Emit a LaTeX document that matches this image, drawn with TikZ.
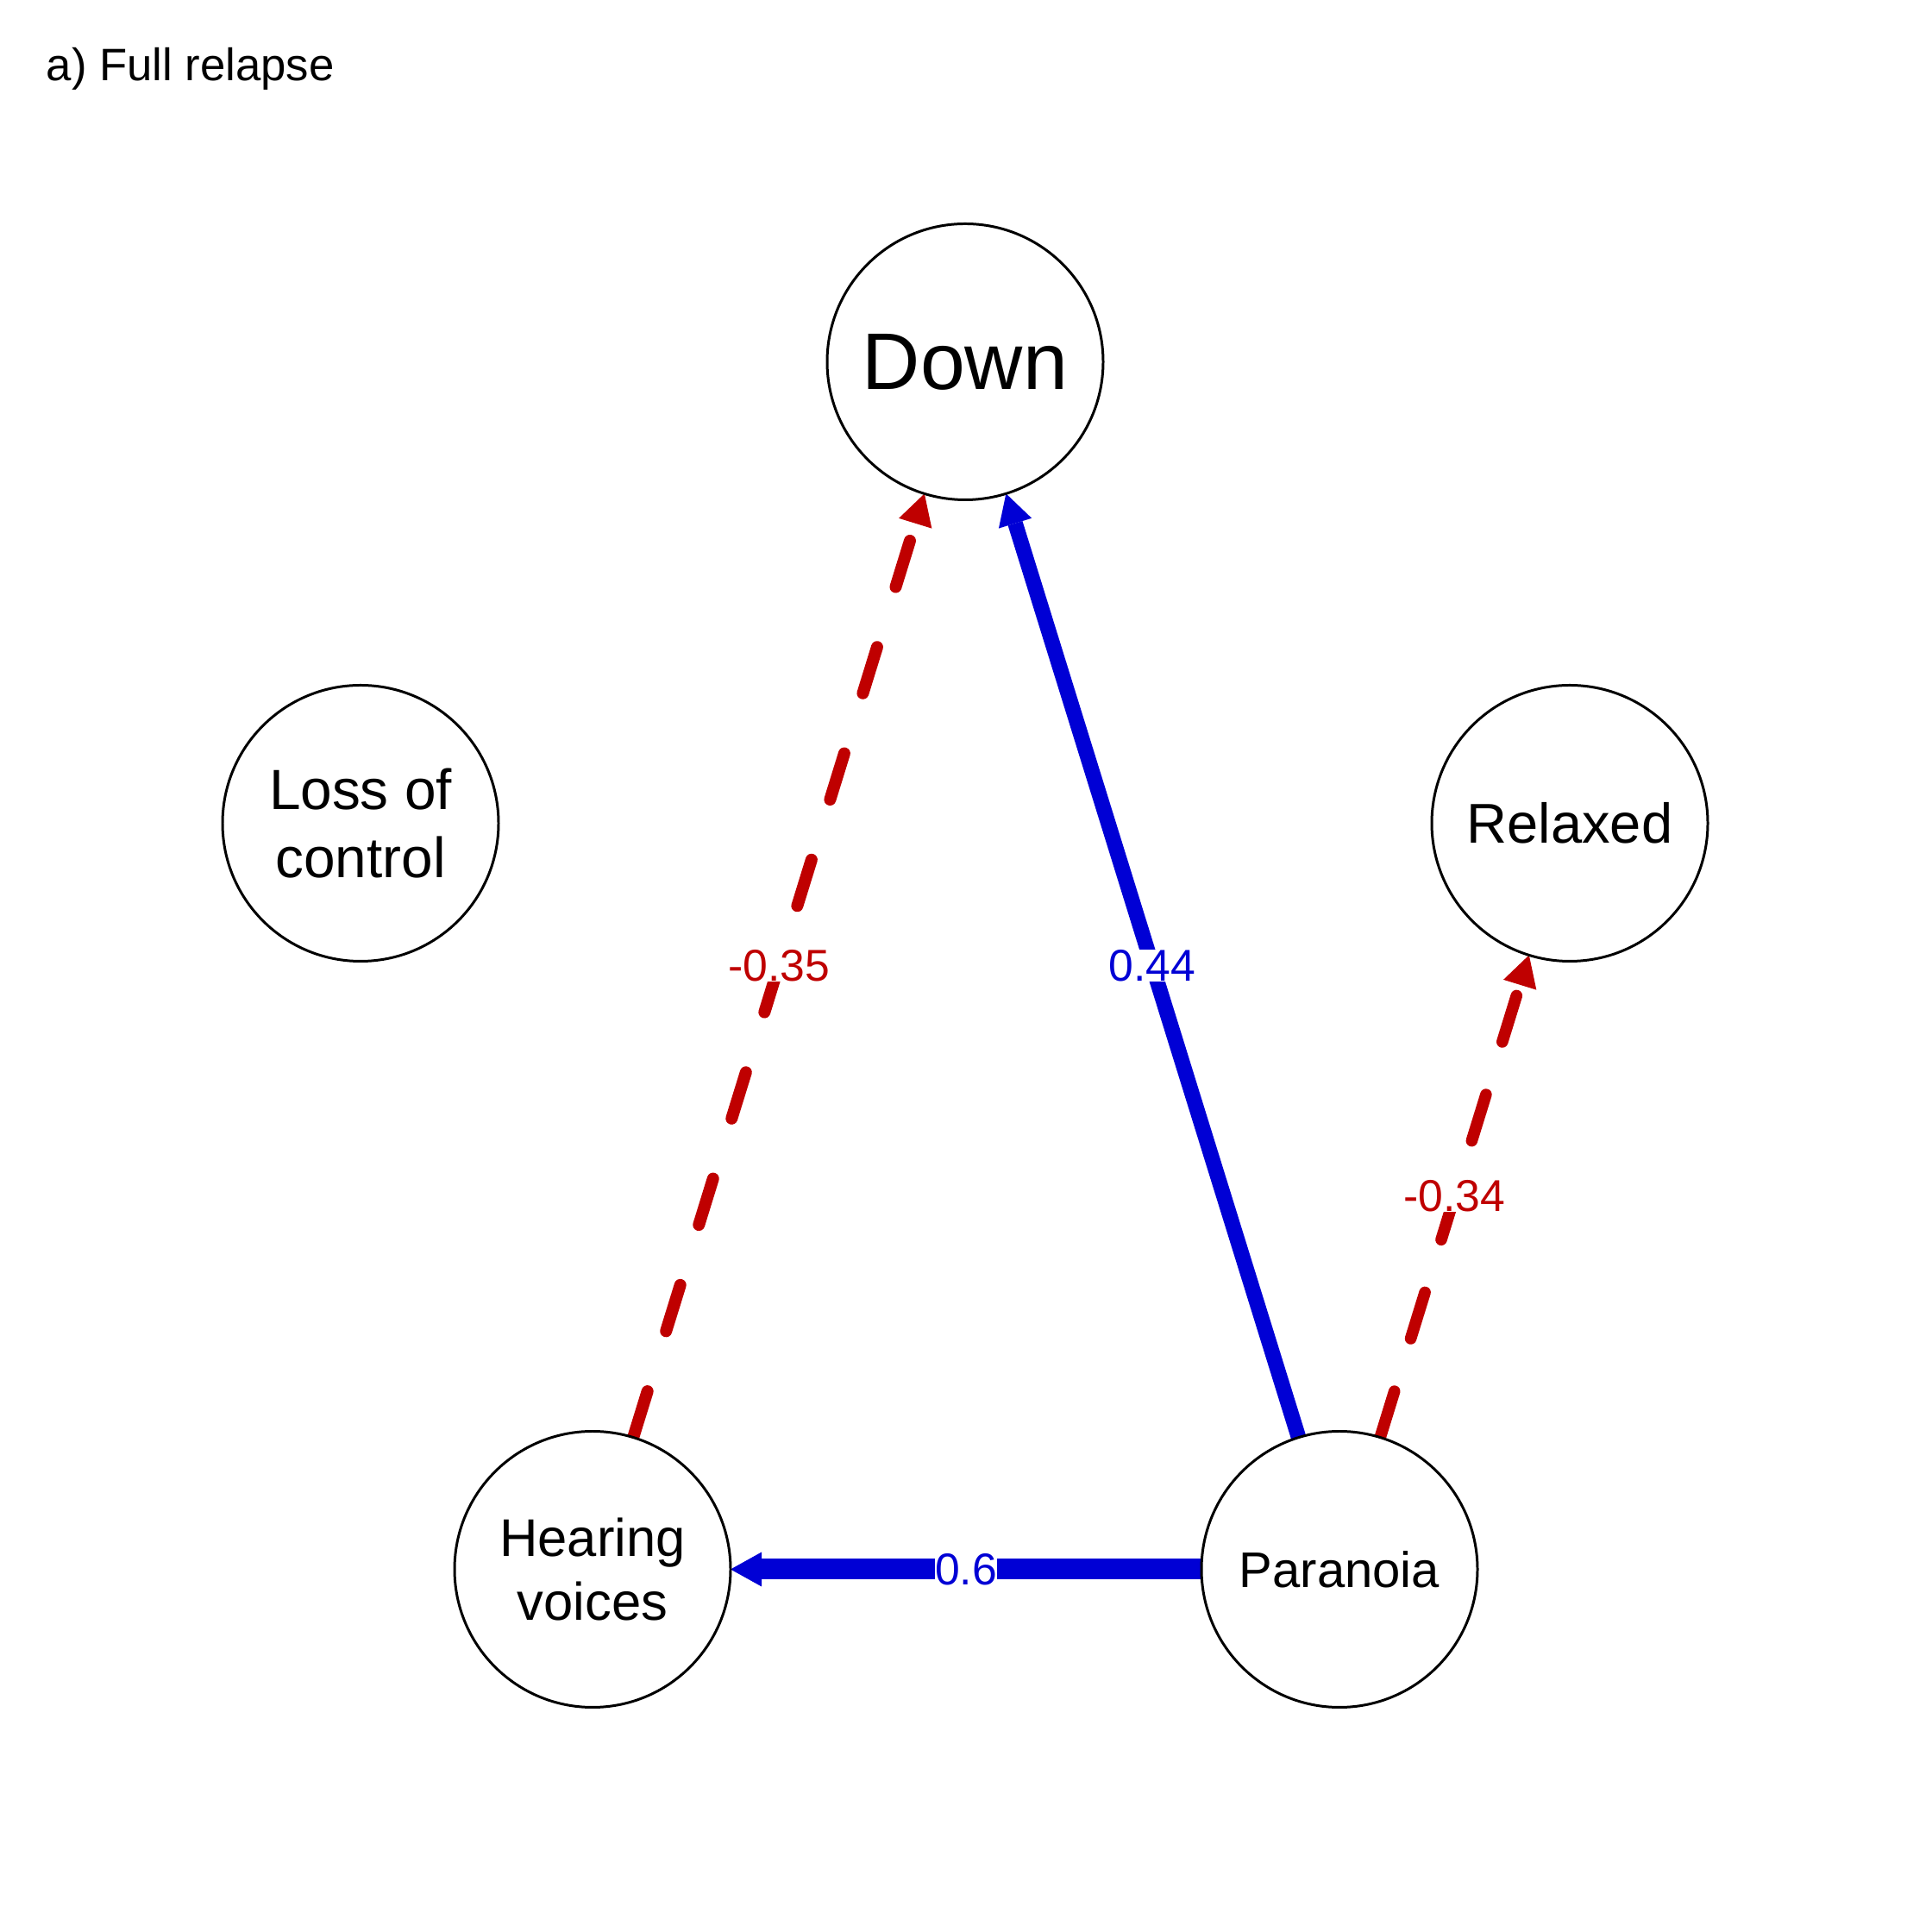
\documentclass[tikz,border=0pt]{standalone}
\usepackage{fontspec}
\setmainfont{Liberation Sans}
\usetikzlibrary{arrows.meta,backgrounds}

\definecolor{posblue}{RGB}{0,0,213}
\definecolor{negred}{RGB}{191,0,0}

\begin{document}
\begin{tikzpicture}[
  item/.style={circle, draw, line width=0.85pt, fill=white, minimum size=3.2cm,
    inner sep=0pt, outer sep=0pt, align=center},
  tip/.style={-{Triangle[length=3.6mm, width=4mm, line width=0pt]}},
  posedge/.style={tip, posblue},
  negedge/.style={tip, negred, line cap=round, dash pattern=on 5.6mm off #1},
  wlabel/.style={fill=white, inner sep=0pt, font=\fontsize{14.7pt}{17.6pt}\selectfont}
]
  \useasboundingbox (0,0) rectangle (22.4,22.4);
  \node[anchor=base west, inner sep=0pt, font=\fontsize{15pt}{18pt}\selectfont] (title) at (0.53,21.46) {a) Full relapse};

  % symptoms
  \node[item, font=\fontsize{26.5pt}{31.8pt}\selectfont] (down) at (11.19,18.205) {Down};
  \node[item, font=\fontsize{18.7pt}{22.4pt}\selectfont] (loss) at (4.18,12.855) {Loss of\\control};
  \node[item, font=\fontsize{18.5pt}{22.2pt}\selectfont] (relax) at (18.20,12.855) {Relaxed};
  \node[item, font=\fontsize{17.5pt}{21pt}\selectfont] (hear) at (6.87,4.205) {Hearing\\voices};
  \node[item, font=\fontsize{16.5pt}{19.8pt}\selectfont] (para) at (15.53,4.205) {Paranoia};

  % weighted edges
  \begin{scope}[on background layer]
    \draw[posedge, line width=2.4mm] (para) -- node[wlabel] {0.6} (hear);
    \draw[posedge, line width=1.76mm] (para) -- node[wlabel] {0.44} (down);
    \draw[negedge=7.3mm, line width=1.4mm] (hear) -- node[wlabel] {-0.35} (down);
    \draw[negedge=6.4mm, line width=1.36mm] (para) -- node[wlabel] {-0.34} (relax);
  \end{scope}
\end{tikzpicture}
\end{document}
